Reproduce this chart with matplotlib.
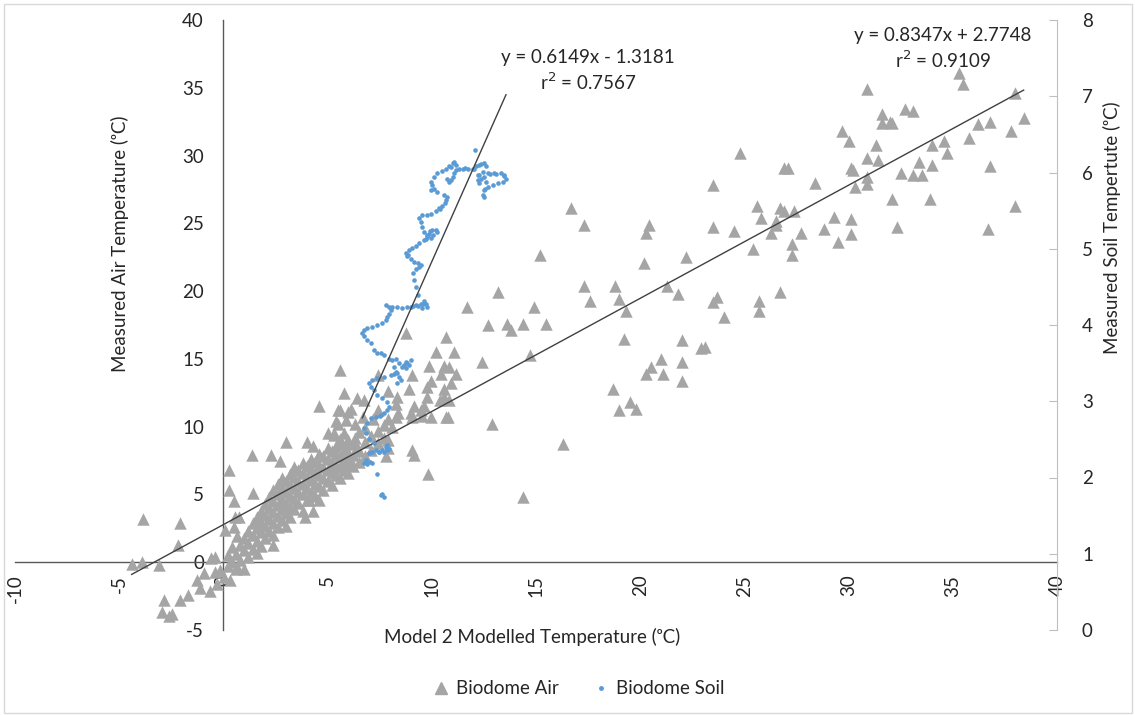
import matplotlib
matplotlib.use("Agg")
import matplotlib.pyplot as plt
from matplotlib.patches import Rectangle

plt.rcParams['font.family'] = ['Lato', 'DejaVu Sans']
plt.rcParams['axes.unicode_minus'] = False

# Biodome Air: modelled (x) vs measured air temperature (left axis)
air_x = [
    16.7, 17.3, 20.4, 20.3, 15.2, 20.2, 22.2, 13.2, 17.3, 18.8, 17.6, 19.0, 19.3, 21.3, 21.8,
    11.7, 14.9, 12.7, 13.6, 13.8, 14.4, 15.5, 19.2, 22.0, 22.9, 21.0, 22.0, 20.5, 20.3, 21.1,
    22.0, 18.7, 19.0, 19.5, 19.8, 14.7, 12.4, 12.9, 16.3, 9.8, 10.8,
    10.67, 10.19, 11.07, 9.87, 10.59, 10.83, 11.15, 10.43, 9.95, 9.79, 10.59, 10.91, 9.79,
    10.59, 10.83, 9.63, 9.95,
    8.75, 5.6, 9.07, 8.9, 9.15, 9.5, 9.07, 9.55, 10.7, 10.4,
    5.8, 6.4, 6.75, 5.5, 6.1, 7.4, 5.4, 5.9, 6.3, 6.7, 7.2, 7.9, 8.1, 8.3, 8.4, 5.3, 5.8, 6.3,
    5.5, 5.9, 6.4, 5.4, 5.9, 5.1, 5.7, 6.1, 7.9, 7.9, 7.8, 9.07, 9.15, 9.0, 8.3, 7.9, 8.35, 7.4,
    14.4,
    24.8, 26.9, 27.1, 23.5, 28.4, 29.7, 30.0, 31.3, 30.9, 31.4, 30.1, 30.2, 30.9, 30.3, 30.9,
    25.6, 25.8, 26.7, 26.9, 27.4, 26.5, 26.5, 26.3, 27.7, 27.3, 27.3, 23.5, 24.5, 25.4, 28.8,
    29.3, 30.1, 30.1, 29.5, 23.5, 23.7, 24.0, 25.7, 25.7, 26.7, 23.1,
    35.3, 35.5, 30.9, 38.0, 32.7, 33.1, 31.6, 31.6, 32.0, 32.1, 38.4, 36.2, 36.8, 37.8, 35.8,
    34.0, 34.6, 34.7, 33.4, 34.0, 32.5, 33.1, 33.5, 36.8, 32.1, 33.9, 38.0, 32.3, 36.7,
    -3.86, -2.1, -2.2, -4.4, -3.9, -3.1, -0.4, -0.6, 0.25, 0.25, 0.5, 1.4, 1.35, 2.3, 2.7, 3.0,
    4.6, 5.6, 6.0, 5.5, 4.0, 4.3, 5.0, 5.3, 5.6, 2.4, 0.5, 0.66, 0.1, 0.58, 0.74, 3.9, 4.3,
    4.6, 4.1,
    -2.87, -2.95, -2.63, -2.47, -2.07, -1.72, -1.27, -1.11, -0.95, -0.63, -0.38, -0.3, -0.14,
    0.02, 0.34, 0.66, 0.98,
    0.2, 0.2, 0.4, 0.4, 0.6, 0.6, 0.8, 0.8, 1.0, 1.0, 1.2, 1.2, 1.2, 1.4, 1.4, 1.4,
    1.6, 1.6, 1.6, 1.6, 1.8, 1.8, 1.8, 1.8, 2.0, 2.0, 2.0, 2.0, 2.2, 2.2, 2.2, 2.2,
    2.4, 2.4, 2.4, 2.4, 2.4, 2.6, 2.6, 2.6, 2.6, 2.6, 2.8, 2.8, 2.8, 2.8, 2.8,
    3.0, 3.0, 3.0, 3.0, 3.0, 3.2, 3.2, 3.2, 3.2, 3.2, 3.4, 3.4, 3.4, 3.4, 3.4,
    3.6, 3.6, 3.6, 3.6, 3.8, 3.8, 3.8, 3.8, 3.8, 4.0, 4.0, 4.0, 4.0, 4.2, 4.2, 4.2, 4.2,
    4.4, 4.4, 4.4, 4.4, 4.6, 4.6, 4.6, 4.6, 4.8, 4.8, 4.8, 4.8, 5.0, 5.0, 5.0, 5.0,
    5.2, 5.2, 5.2, 5.2, 5.4, 5.4, 5.4, 5.6, 5.6, 5.6, 5.8, 5.8, 5.8, 6.0, 6.0, 6.0, 6.0,
    6.2, 6.2, 6.2, 6.5, 6.5, 6.5, 6.8, 6.8, 6.8, 7.1, 7.1, 7.4, 7.4, 7.7, 7.7,
]
air_y = [
    26.1, 24.9, 24.9, 24.3, 22.7, 22.1, 22.5, 19.9, 20.4, 20.4, 19.3, 19.4, 18.5, 20.4, 19.8,
    18.8, 18.8, 17.5, 17.6, 17.1, 17.6, 17.6, 16.5, 16.4, 15.8, 15.0, 14.8, 14.4, 13.9, 13.9,
    13.4, 12.8, 11.2, 11.8, 11.3, 15.3, 14.8, 10.2, 8.7, 6.5, 10.7,
    16.6, 15.5, 15.5, 14.5, 14.5, 14.4, 13.9, 13.9, 13.4, 12.9, 12.8, 13.2, 12.2,
    12.2, 12.0, 11.5, 10.7,
    16.9, 14.2, 13.8, 12.8, 11.5, 11.2, 10.7, 10.8, 10.7, 12.0,
    12.5, 12.1, 12.0, 11.2, 11.3, 11.2, 10.4, 10.5, 10.2, 10.7, 10.6, 10.6, 10.0, 10.7, 11.0, 9.5, 9.5, 9.2,
    8.8, 8.8, 8.5, 8.0, 7.9, 7.0, 7.0, 7.5, 9.0, 8.4, 7.8, 8.3, 7.9, 11.0, 11.7, 12.6, 12.2, 13.8,
    4.8,
    30.2, 29.1, 29.1, 27.8, 28.0, 31.8, 31.1, 30.8, 29.8, 29.7, 29.1, 28.9, 28.4, 27.7, 27.9,
    26.3, 25.4, 26.1, 25.9, 25.9, 25.2, 24.9, 24.3, 24.3, 23.5, 22.7, 24.7, 24.4, 23.1, 24.6,
    25.5, 25.3, 24.2, 23.6, 19.2, 19.6, 18.1, 19.3, 18.5, 19.9, 15.9,
    36.1, 35.3, 34.9, 34.6, 33.4, 33.3, 33.1, 32.4, 32.5, 32.4, 32.8, 32.3, 32.5, 31.8, 31.3,
    30.8, 31.1, 30.2, 29.5, 29.3, 28.7, 28.6, 28.6, 29.2, 26.8, 26.8, 26.3, 24.7, 24.6,
    3.2, 2.9, 1.3, -0.1, 0.0, -0.2, 0.4, 0.3, 6.8, 5.3, 4.5, 5.1, 7.9, 7.9, 7.5, 8.9,
    11.5, 11.2, 11.1, 10.2, 8.9, 8.6, 9.5, 9.4, 9.1, 1.25, 2.6, 1.9, 2.4, 3.3, 3.3, 3.3, 3.8,
    4.6, 4.6,
    -2.8, -3.7, -4.0, -3.8, -2.8, -2.4, -1.3, -1.9, -0.8, -2.1, -0.7, -1.6, -0.6,
    -1.1, -1.3, -0.35, -0.5,
    -0.3, 0.5, 0.0, 1.1, 0.6, -0.5, 1.3, 0.2, 0.9, 1.8, 0.4, 1.4, 2.3, 1.0, 2.0, 2.9,
    0.7, 1.6, 2.5, 3.3, 1.2, 2.2, 3.0, 3.8, 1.8, 2.7, 3.5, 4.3, 2.3, 3.2, 4.0, 4.8,
    2.0, 2.9, 3.7, 4.5, 5.3, 2.6, 3.4, 4.2, 5.0, 5.8, 3.1, 3.9, 4.7, 5.5, 6.2,
    2.7, 3.6, 4.4, 5.2, 6.0, 3.3, 4.1, 4.9, 5.7, 6.5, 3.9, 4.7, 5.5, 6.3, 7.0,
    4.4, 5.2, 6.0, 6.8, 3.8, 5.0, 5.8, 6.6, 7.3, 4.6, 5.5, 6.3, 7.1, 5.2, 6.1, 6.9, 7.6,
    4.9, 5.8, 6.6, 7.4, 5.6, 6.4, 7.2, 8.0, 5.3, 6.2, 7.0, 7.8, 6.0, 6.8, 7.6, 8.4,
    5.7, 6.6, 7.4, 8.2, 6.4, 7.2, 8.6, 6.2, 7.0, 7.8, 6.8, 7.6, 8.3, 6.6, 7.3, 8.1, 9.0,
    7.1, 7.9, 8.7, 7.4, 8.2, 9.6, 7.8, 8.9, 9.9, 8.3, 9.3, 8.8, 9.7, 9.2, 10.1,
]

# Biodome Soil: modelled (x) vs measured soil temperature (right axis)
soil_x = [
    7.55, 7.63, 7.71, 7.39, 6.75, 6.83, 6.91, 7.15, 6.99, 7.15, 7.47, 7.71, 7.87, 7.95, 7.79,
    7.23, 6.99, 6.83, 6.75, 6.91, 7.07, 7.31, 7.55, 7.71, 7.87, 7.95, 7.87, 7.63, 7.39, 7.23,
    7.07, 6.99, 7.15, 7.39, 7.71, 8.03, 8.35, 8.43, 8.51, 8.35, 8.27, 8.19, 8.43, 8.75, 8.99,
    8.91, 8.75, 8.59, 8.11, 7.95, 7.71, 7.55, 7.39, 7.23, 7.07, 6.91, 6.75, 6.67, 6.75, 6.91,
    7.15, 7.39, 7.63, 7.79, 7.87, 7.95, 8.03, 7.95, 7.79, 8.11, 8.35, 8.59, 8.83, 9.23, 9.47,
    9.71, 9.79, 9.55, 9.63, 9.34, 9.23, 9.15, 9.12, 9.23, 9.39, 9.50, 9.34, 9.15, 8.99, 8.83,
    8.75, 8.91, 9.07, 9.23, 9.39, 9.63, 9.79, 9.87, 10.03, 10.19, 10.24, 10.08, 9.95, 9.79,
    9.63, 9.55, 9.47, 9.39, 9.55, 9.79, 9.95, 10.19, 10.35, 10.51, 10.67, 10.75, 10.59, 10.27,
    10.11, 9.95, 10.03, 9.95, 10.11, 10.27, 10.51, 10.67, 10.83, 11.00, 11.07, 11.15, 11.07,
    11.00, 10.91, 10.83, 10.75, 11.15, 11.48, 11.72, 11.96, 12.12, 12.27, 12.51, 12.60, 12.44,
    12.27, 12.20, 12.36, 12.51, 12.60, 12.68, 13.00, 13.32, 13.48, 13.56, 13.40, 13.16, 12.92,
    12.68, 12.51, 12.44, 12.51, 12.08, 12.20, 12.27,
    7.31, 7.47, 7.63, 7.02, 7.83, 7.50, 8.20, 8.66, 8.83, 8.30, 9.02, 9.36, 9.58, 9.10, 8.85,
    9.71, 9.91, 10.40, 10.62, 10.90, 11.30, 11.60, 12.04, 12.35, 12.80, 13.10, 13.45, 12.56,
]
soil_y = [
    1.77, 1.79, 1.75, 2.05, 2.19, 2.23, 2.18, 2.19, 2.32, 2.34, 2.34, 2.34, 2.36, 2.38, 2.40,
    2.45, 2.51, 2.58, 2.65, 2.71, 2.78, 2.80, 2.82, 2.84, 2.89, 2.93, 2.99, 3.04, 3.08, 3.15,
    3.19, 3.24, 3.28, 3.30, 3.32, 3.34, 3.37, 3.32, 3.28, 3.24, 3.39, 3.45, 3.50, 3.52, 3.54,
    3.48, 3.43, 3.45, 3.54, 3.56, 3.61, 3.63, 3.63, 3.67, 3.76, 3.80, 3.85, 3.89, 3.93, 3.96,
    3.98, 4.00, 4.02, 4.07, 4.11, 4.15, 4.20, 4.24, 4.26, 4.24, 4.24, 4.22, 4.24, 4.26, 4.28,
    4.28, 4.24, 4.22, 4.31, 4.39, 4.50, 4.59, 4.68, 4.74, 4.76, 4.79, 4.81, 4.83, 4.87, 4.90,
    4.94, 4.98, 5.01, 5.04, 5.07, 5.11, 5.16, 5.20, 5.25, 5.25, 5.22, 5.18, 5.14, 5.18,
    5.22, 5.29, 5.35, 5.40, 5.44, 5.44, 5.46, 5.50, 5.53, 5.56, 5.64, 5.68, 5.70, 5.75,
    5.78, 5.77, 5.84, 5.88, 5.94, 6.00, 6.02, 6.05, 6.09, 6.12, 6.14, 6.10, 5.99,
    5.94, 5.90, 5.88, 5.92, 6.03, 6.04, 6.05, 6.04, 6.08, 6.10, 6.12, 6.08, 6.01,
    5.97, 5.90, 5.92, 5.94, 5.88, 6.00, 5.99, 6.00, 5.97, 5.92, 5.88, 5.86, 5.84,
    5.81, 5.77, 5.70, 5.68, 6.30, 5.97, 5.86,
    2.36, 2.33, 2.36, 2.20, 2.42, 2.81, 3.36, 3.48, 3.50, 3.56, 4.23, 4.25, 4.27, 4.25, 4.92,
    5.13, 5.23, 5.52, 5.60, 6.07, 6.04, 6.06, 6.05, 6.11, 5.98, 5.98, 5.95, 5.79,
]

# trendlines (as printed on the chart)
air_fit = (0.8347, 2.7748)
soil_fit = (0.6149, -1.3181)
air_eq = ["y = 0.8347x + 2.7748", "r$^2$ = 0.9109"]
soil_eq = ["y = 0.6149x - 1.3181", "r$^2$ = 0.7567"]

x_ticks = list(range(-10, 41, 5))
air_ticks = list(range(-5, 41, 5))
soil_ticks = list(range(0, 9))

FS = 13.5
TXT = '#262626'
W, H = 1135, 715
fig = plt.figure(figsize=(W / 100, H / 100), dpi=100)
fig.patches.append(Rectangle((4 / W, 2 / H), 1 - 7 / W, 1 - 6 / H, transform=fig.transFigure,
                             fill=False, edgecolor='#d9d9d9', linewidth=1))

ax = fig.add_axes([15 / W, 1 - 630 / H, (1057 - 15) / W, (630 - 20) / H])
ax.set_xlim(-10, 40)
ax.set_ylim(-5, 40)
ax.scatter(air_x, air_y, marker='^', s=80, color='#a5a5a5', linewidths=0, zorder=3)
xs = [min(air_x), max(air_x)]
ax.plot(xs, [air_fit[0] * v + air_fit[1] for v in xs], color='#404040', lw=1, zorder=4)

for side in ['top', 'right']:
    ax.spines[side].set_visible(False)
ax.spines['left'].set_position(('data', 0))
ax.spines['bottom'].set_position(('data', 0))
for side in ['left', 'bottom']:
    ax.spines[side].set_color('#595959')
    ax.spines[side].set_linewidth(1)
ax.set_xticks(x_ticks)
ax.set_yticks(air_ticks)
ax.tick_params(axis='x', length=0, pad=9, labelsize=FS, labelrotation=90, colors=TXT)
ax.tick_params(axis='y', length=0, pad=14, labelsize=FS, colors=TXT)
ax.patch.set_visible(False)

ax2 = ax.twinx()
ax2.set_ylim(0, 8)
ax2.scatter(soil_x, soil_y, marker='o', s=11, color='#5b9bd5', linewidths=0, zorder=3)
xs2 = [min(soil_x), max(soil_x)]
ax2.plot(xs2, [soil_fit[0] * v + soil_fit[1] for v in xs2], color='#404040', lw=1, zorder=4)
for side in ['top', 'left', 'bottom']:
    ax2.spines[side].set_visible(False)
ax2.spines['right'].set_color('#bfbfbf')
ax2.set_yticks(soil_ticks)
ax2.tick_params(axis='y', direction='in', length=6, color='#bfbfbf', pad=18,
                labelsize=FS, labelcolor=TXT)

# labels
fig.text(532 / W, 1 - 637 / H, 'Model 2 Modelled Temperature (ᵒC)', ha='center', va='center',
         fontsize=FS, color=TXT)
fig.text(120 / W, 1 - 244 / H, 'Measured Air Temperature (ᵒC)', ha='center', va='center',
         rotation=90, fontsize=FS, color=TXT)
fig.text(1112 / W, 1 - 228 / H, 'Measured Soil Tempertute (ᵒC)', ha='center', va='center',
         rotation=90, fontsize=FS, color=TXT)

# trendline equations
fig.text(588 / W, 1 - 57 / H, soil_eq[0], ha='center', va='center', fontsize=FS, color=TXT)
fig.text(588 / W, 1 - 82 / H, soil_eq[1], ha='center', va='center', fontsize=FS, color=TXT)
fig.text(943 / W, 1 - 35 / H, air_eq[0], ha='center', va='center', fontsize=FS, color=TXT)
fig.text(943 / W, 1 - 60 / H, air_eq[1], ha='center', va='center', fontsize=FS, color=TXT)

# legend
h1 = plt.Line2D([], [], marker='^', ls='', color='#a5a5a5', markersize=9)
h2 = plt.Line2D([], [], marker='o', ls='', color='#5b9bd5', markersize=2.5)
fig.legend([h1, h2], ['Biodome Air', 'Biodome Soil'], loc='center',
           bbox_to_anchor=(578 / W, 1 - 689 / H), ncol=2, frameon=False, fontsize=FS,
           handlelength=1, handletextpad=0.3, columnspacing=1.8, labelcolor=TXT)

fig.savefig('out.png', dpi=100)
